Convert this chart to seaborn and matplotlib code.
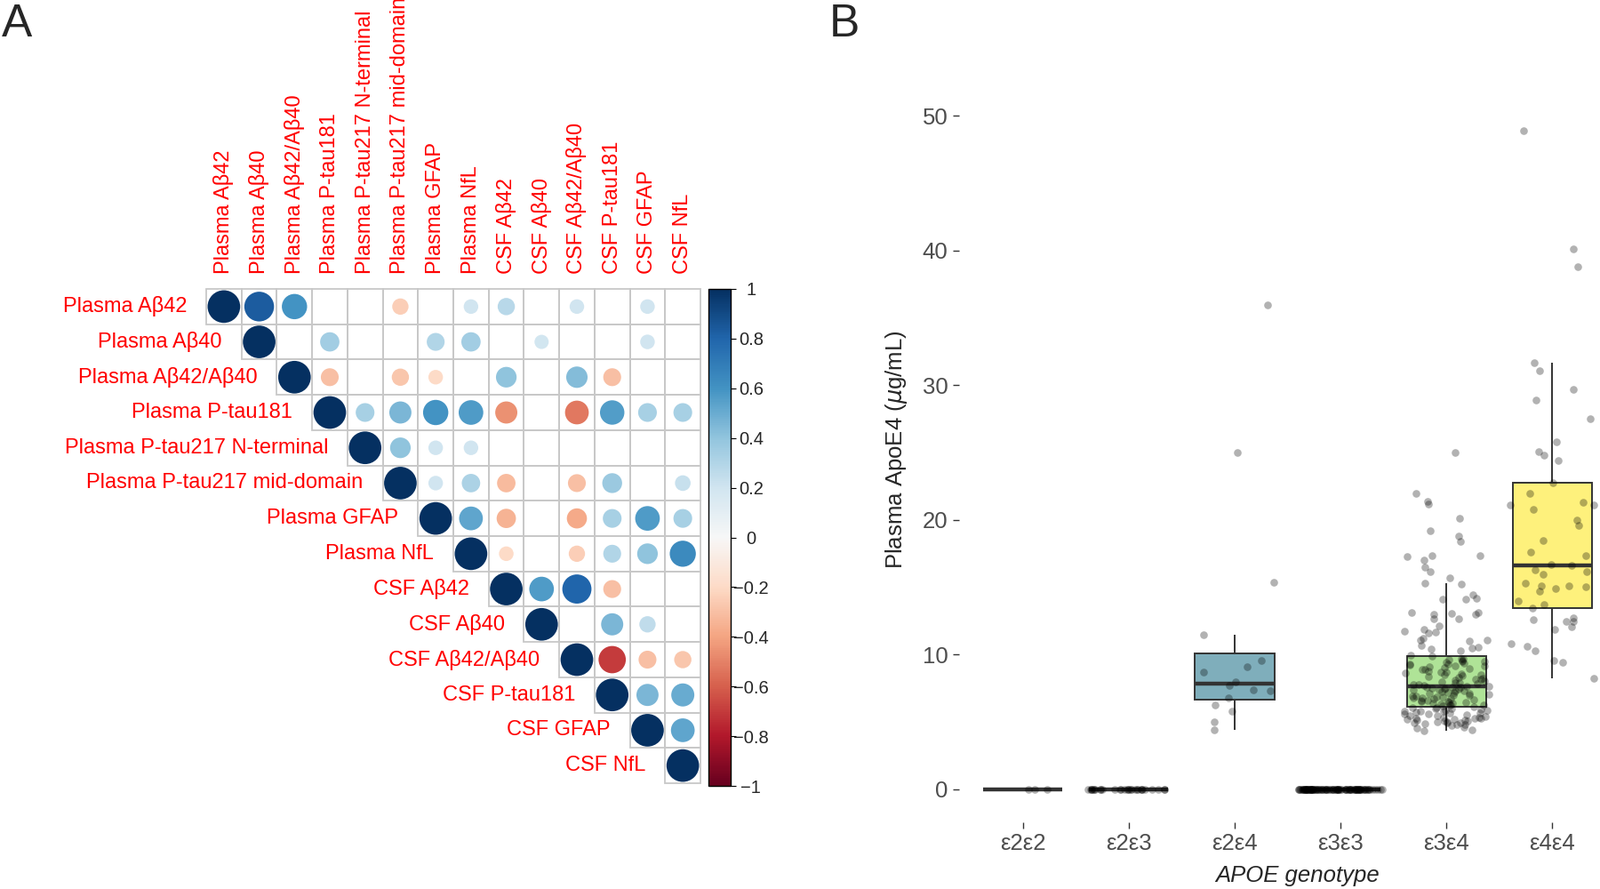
import numpy as np
import pandas as pd
import matplotlib
matplotlib.use("Agg")
import matplotlib.pyplot as plt
import seaborn as sns
from matplotlib.colors import Normalize, to_rgb
from matplotlib.patches import Rectangle

sns.set_style("white")
plt.rcParams["font.family"] = ["Liberation Sans", "DejaVu Sans"]

# ---------------- panel A data: correlation matrix (upper triangle, None = not shown)
labels = ["Plasma Aβ42", "Plasma Aβ40", "Plasma Aβ42/Aβ40", "Plasma P-tau181",
          "Plasma P-tau217 N-terminal", "Plasma P-tau217 mid-domain", "Plasma GFAP",
          "Plasma NfL", "CSF Aβ42", "CSF Aβ40", "CSF Aβ42/Aβ40", "CSF P-tau181",
          "CSF GFAP", "CSF NfL"]
_ = None
corr = [
    [1.0, 0.83, 0.60, _, _, -0.25, _, 0.20, 0.28, _, 0.20, _, 0.20, _],
    [_, 1.0, _, 0.35, _, _, 0.30, 0.35, _, 0.19, _, _, 0.20, _],
    [_, _, 1.0, -0.30, _, -0.28, -0.20, _, 0.40, _, 0.43, -0.30, _, _],
    [_, _, _, 1.0, 0.33, 0.46, 0.60, 0.57, -0.46, _, -0.53, 0.56, 0.33, 0.33],
    [_, _, _, _, 1.0, 0.40, 0.20, 0.20, _, _, _, _, _, _],
    [_, _, _, _, _, 1.0, 0.20, 0.32, -0.32, _, -0.30, 0.37, _, 0.23],
    [_, _, _, _, _, _, 1.0, 0.53, -0.35, _, -0.38, 0.33, 0.57, 0.33],
    [_, _, _, _, _, _, _, 1.0, -0.20, _, -0.25, 0.30, 0.40, 0.64],
    [_, _, _, _, _, _, _, _, 1.0, 0.57, 0.80, -0.30, _, _],
    [_, _, _, _, _, _, _, _, _, 1.0, _, 0.46, 0.25, _],
    [_, _, _, _, _, _, _, _, _, _, 1.0, -0.70, -0.30, -0.28],
    [_, _, _, _, _, _, _, _, _, _, _, 1.0, 0.46, 0.50],
    [_, _, _, _, _, _, _, _, _, _, _, _, 1.0, 0.53],
    [_, _, _, _, _, _, _, _, _, _, _, _, _, 1.0],
]
cbar_ticks = [1, 0.8, 0.6, 0.4, 0.2, 0, -0.2, -0.4, -0.6, -0.8, -1]
cbar_labels = ["1", "0.8", "0.6", "0.4", "0.2", "0", "\u22120.2", "\u22120.4",
               "\u22120.6", "\u22120.8", "\u22121"]

# ---------------- panel B data: plasma ApoE4 by APOE genotype
genotypes = ["ε2ε2", "ε2ε3", "ε2ε4", "ε3ε3", "ε3ε4", "ε4ε4"]
e2e2 = [0.0, 0.0, 0.0]
e2e3 = [0.0, 0.0, 0.0, 0.0, 0.0, 0.0, 0.0, 0.0, 0.0, 0.0,
        0.0, 0.0, 0.0, 0.0, 0.0, 0.0, 0.0, 0.0, 0.0, 0.0,
        0.0, 0.0, 0.0, 0.0, 0.0, 0.0, 0.0, 0.0, 0.0, 0.0]
e2e4 = [36.0, 25.0, 15.4, 11.5, 9.6, 9.1, 8.7, 8.0, 7.7, 7.4, 7.3, 6.8, 6.3, 5.8, 5.0, 4.4]
e3e3 = [0.0, 0.0, 0.0, 0.0, 0.0, 0.0, 0.0, 0.0, 0.0, 0.0,
        0.0, 0.0, 0.0, 0.0, 0.0, 0.0, 0.0, 0.0, 0.0, 0.0,
        0.0, 0.0, 0.0, 0.0, 0.0, 0.0, 0.0, 0.0, 0.0, 0.0,
        0.0, 0.0, 0.0, 0.0, 0.0, 0.0, 0.0, 0.0, 0.0, 0.0,
        0.0, 0.0, 0.0, 0.0, 0.0, 0.0, 0.0, 0.0, 0.0, 0.0,
        0.0, 0.0, 0.0, 0.0, 0.0, 0.0, 0.0, 0.0, 0.0, 0.0,
        0.0, 0.0, 0.0, 0.0, 0.0, 0.0, 0.0, 0.0, 0.0, 0.0,
        0.0, 0.0, 0.0, 0.0, 0.0, 0.0, 0.0, 0.0, 0.0, 0.0,
        0.0, 0.0, 0.0, 0.0, 0.0, 0.0, 0.0, 0.0, 0.0, 0.0,
        0.0, 0.0, 0.0, 0.0, 0.0, 0.0, 0.0, 0.0, 0.0, 0.0]
e3e4 = [25.0, 21.95, 21.4, 21.2, 20.1, 19.2, 18.8, 18.4, 17.35, 17.3, 17.35, 17.0,
        16.5, 16.2, 15.7, 15.3, 15.25, 14.45, 14.2, 14.1, 14.1, 13.1, 13.1, 13.05,
        13.0, 13.0, 12.7, 12.7, 12.15, 11.86, 11.7, 11.75, 11.6, 11.1, 11.2, 11.05,
        11.1, 10.7, 10.4, 10.3, 10.5, 10.55, 9.95, 9.9,
        9.72, 9.7, 9.66, 9.6, 9.52, 9.5, 9.44, 9.4, 9.33, 9.3, 9.21, 9.2, 9.15, 9.08,
        9.05, 8.97, 8.9, 8.88, 8.8, 8.74, 8.7, 8.66, 8.6, 8.52, 8.5, 8.44, 8.38, 8.3,
        8.28, 8.2, 8.15, 8.1, 8.03, 8.0, 7.94, 7.9, 7.83, 7.8, 7.76, 7.7, 7.68, 7.64,
        7.6, 7.6, 7.56, 7.55, 7.5, 7.48, 7.44, 7.4, 7.36, 7.3, 7.3, 7.24, 7.2, 7.18,
        7.14, 7.1, 7.06, 7.0, 7.0, 6.95, 6.9, 6.88, 6.84, 6.8, 6.78, 6.74, 6.7, 6.66,
        6.6, 6.6, 6.55, 6.5, 6.48, 6.44, 6.4, 6.38, 6.35, 6.3, 6.28, 6.25, 6.2,
        6.15, 6.1, 6.05, 6.0, 6.0, 5.95, 5.9, 5.85, 5.8, 5.8, 5.8, 5.75, 5.7, 5.65,
        5.6, 5.6, 5.55, 5.5, 5.45, 5.4, 5.36, 5.36, 5.3, 5.3, 5.25, 5.2, 5.2, 5.15,
        5.14, 5.1, 5.05, 5.03, 5.0, 4.95, 4.92, 4.92, 4.85, 4.8, 4.8, 4.75, 4.65,
        4.55, 4.45, 4.37]
e4e4 = [48.9, 40.1, 38.8, 31.7, 31.06, 29.7, 28.9, 27.5, 25.8, 25.1, 24.8, 24.4,
        22.76, 21.95, 21.3, 21.1, 21.1, 20.8, 20.0, 19.6, 18.5, 17.6, 17.35, 16.7,
        16.6, 16.3, 16.2, 16.0, 15.3, 15.1, 15.1, 15.05, 14.9, 14.7, 14.0, 13.7,
        13.45, 12.75, 12.6, 12.5, 12.45, 12.1, 11.9, 10.8, 10.6, 10.3, 9.56, 9.45, 8.27]
y_ticks = [0, 10, 20, 30, 40, 50]
viridis6 = ["#440154", "#414487", "#2A788E", "#22A884", "#7AD151", "#FDE725"]

fig = plt.figure(figsize=(18, 10), dpi=100)

# ================= panel A =================
n = len(labels)
axA = fig.add_axes([232 / 1800, 1 - 881 / 1000, 556 / 1800, 556 / 1000])
cm = pd.DataFrame(corr, dtype=float)

# grid only for the displayed (upper) cells
for i in range(n):
    for j in range(i, n):
        axA.add_patch(Rectangle((j, i), 1, 1, fill=False, edgecolor="#C8C8C8",
                                linewidth=1.3, clip_on=False, zorder=1))

long = cm.stack().reset_index()
long.columns = ["row", "col", "r"]
long["x"] = long["col"] + 0.5
long["y"] = long["row"] + 0.5
long["a"] = long["r"].abs()
sns.scatterplot(data=long, x="x", y="y", hue="r", size="a", palette="RdBu",
                hue_norm=(-1, 1), sizes=(0, 698), size_norm=(0, 1), linewidth=0,
                legend=False, ax=axA, zorder=3)
axA.set_xlim(0, n)
axA.set_ylim(n, 0)
axA.set_xlabel("")
axA.set_ylabel("")
axA.set_xticks([])
axA.set_yticks([])
for s in axA.spines.values():
    s.set_visible(False)

for i, lab in enumerate(labels):
    axA.text(i - 0.55, i + 0.5, lab, ha="right", va="center", color="red",
             fontsize=17, clip_on=False)
    axA.text(i + 0.5, -0.43, lab, rotation=90, ha="center", va="bottom",
             color="red", fontsize=17, clip_on=False)

cax = fig.add_axes([797 / 1800, 1 - 884 / 1000, 25 / 1800, 559 / 1000])
sm = plt.cm.ScalarMappable(norm=Normalize(-1, 1), cmap="RdBu")
cb = fig.colorbar(sm, cax=cax)
cb.set_ticks(cbar_ticks)
cb.set_ticklabels(cbar_labels)
cb.outline.set_edgecolor("black")
cb.outline.set_linewidth(1.0)
cax.tick_params(axis="y", right=True, length=4, width=0.8, color="black",
                labelsize=14.5, pad=12.5)
for t in cax.get_yticklabels():
    t.set_horizontalalignment("center")

# ================= panel B =================
df = pd.DataFrame({
    "genotype": (["ε2ε2"] * len(e2e2) + ["ε2ε3"] * len(e2e3) + ["ε2ε4"] * len(e2e4)
                 + ["ε3ε3"] * len(e3e3) + ["ε3ε4"] * len(e3e4) + ["ε4ε4"] * len(e4e4)),
    "value": e2e2 + e2e3 + e2e4 + e3e3 + e3e4 + e4e4,
})
# ggplot-style fill with alpha 0.6 over white
fills = {g: tuple(0.6 * np.array(to_rgb(c)) + 0.4) for g, c in zip(genotypes, viridis6)}

axB = fig.add_axes([1079 / 1800, 1 - 925 / 1000, (1800 - 1079) / 1800, 815 / 1000])
sns.boxplot(data=df, x="genotype", y="value", hue="genotype", order=genotypes,
            hue_order=genotypes, palette=fills, saturation=1, width=0.75,
            showfliers=False, showcaps=False, linecolor="#333333", linewidth=1.4,
            medianprops={"linewidth": 3.2}, legend=False, ax=axB)
sns.stripplot(data=df, x="genotype", y="value", order=genotypes, color="black",
              alpha=0.3, size=6.2, jitter=0.4, linewidth=0, ax=axB, zorder=3)
axB.set_xlim(-0.6, 5.45)
axB.set_ylim(-2.445, 51.35)
axB.set_yticks(y_ticks)
for s in axB.spines.values():
    s.set_visible(False)
axB.tick_params(axis="both", bottom=True, left=True, length=5, width=1,
                color="#333333", labelcolor="#4D4D4D", labelsize=18.5, pad=4)
axB.set_ylabel("Plasma ApoE4 ($\\mu$g/mL)", fontsize=18.5)
axB.set_xlabel("APOE genotype", fontsize=18.5, style="italic")
axB.yaxis.set_label_coords(-0.078, 0.514)
axB.xaxis.set_label_coords(0.528, -0.059)

fig.text(2 / 1800, 0.997, "A", fontsize=37, va="top", ha="left")
fig.text(933 / 1800, 0.997, "B", fontsize=37, va="top", ha="left")

fig.savefig("out.png", dpi=100)
